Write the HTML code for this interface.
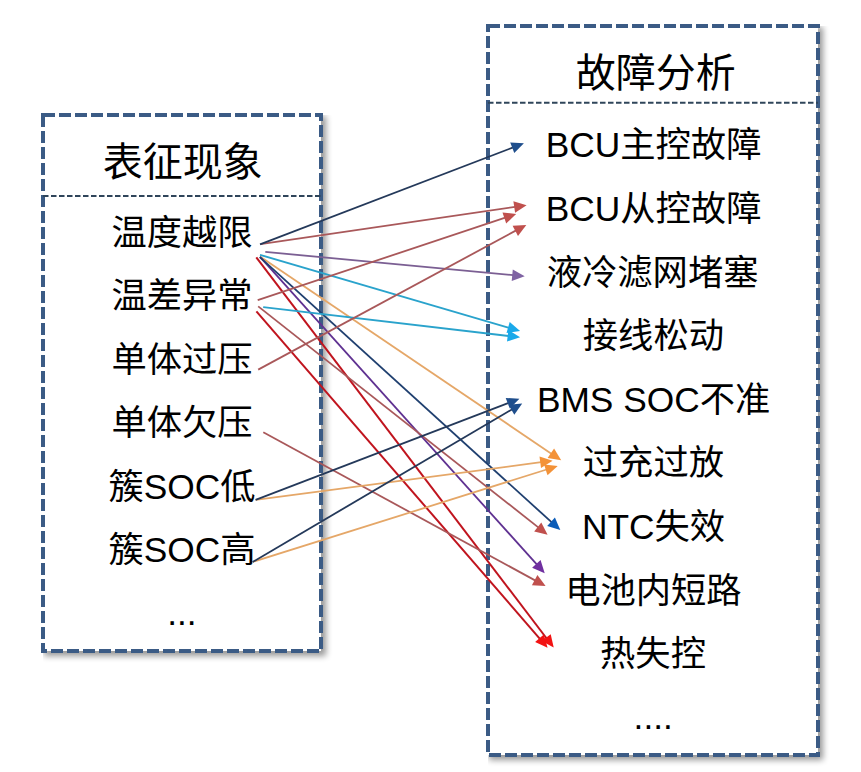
<!DOCTYPE html>
<html lang="zh"><head><meta charset="utf-8"><title>表征现象 - 故障分析</title>
<style>html,body{margin:0;padding:0;background:#fff;font-family:"Liberation Sans",sans-serif}svg{display:block}</style></head>
<body>
<svg role="img" aria-label="表征现象 → 故障分析" width="861" height="772" viewBox="0 0 861 772">
<defs><filter id="sh" x="-10%" y="-10%" width="125%" height="125%"><feGaussianBlur in="SourceAlpha" stdDeviation="3"/><feOffset dx="3" dy="3"/><feComponentTransfer><feFuncA type="linear" slope="0.41"/></feComponentTransfer></filter><clipPath id="c0"><rect x="43" y="115" width="318" height="576"/></clipPath><clipPath id="c1"><rect x="488" y="26" width="370" height="769"/></clipPath></defs>
<rect width="861" height="772" fill="#fff"/>
<g clip-path="url(#c0)"><rect x="41" y="113" width="282" height="540" fill="#000" filter="url(#sh)"/></g>
<rect x="43" y="115" width="278" height="536" fill="#fff"/>
<rect x="43" y="115" width="278" height="536" fill="none" stroke="#3b5b85" stroke-width="4" stroke-dasharray="12 4"/>
<line x1="43" y1="196" x2="321" y2="196" stroke="#2f455a" stroke-width="2" stroke-dasharray="5.5 2.5"/>
<g clip-path="url(#c1)"><rect x="486" y="24" width="334" height="733" fill="#000" filter="url(#sh)"/></g>
<rect x="488" y="26" width="330" height="729" fill="#fff"/>
<rect x="488" y="26" width="330" height="729" fill="none" stroke="#3b5b85" stroke-width="4" stroke-dasharray="12 4"/>
<line x1="488" y1="102.7" x2="818" y2="102.7" stroke="#2f455a" stroke-width="2" stroke-dasharray="5.5 2.5"/>
<g font-family="'Liberation Sans', 'Noto Sans CJK SC', sans-serif" fill="#000" text-anchor="middle">
<text x="182.7" y="175.5" font-size="40">表征现象</text>
<text x="182" y="245" font-size="35.3">温度越限</text>
<text x="182" y="308.4" font-size="35.3">温差异常</text>
<text x="182" y="371.5" font-size="35.3">单体过压</text>
<text x="182" y="435.2" font-size="35.3">单体欠压</text>
<text x="182" y="498.8" font-size="35.3">簇SOC低</text>
<text x="182" y="562.3" font-size="35.3">簇SOC高</text>
<text x="181.9" y="625.1" font-size="35.3">...</text>
<text x="655.8" y="87" font-size="40">故障分析</text>
<text x="653.6" y="157.2" font-size="35.3">BCU主控故障</text>
<text x="653.6" y="220.8" font-size="35.3">BCU从控故障</text>
<text x="652.6" y="284.5" font-size="35.3">液冷滤网堵塞</text>
<text x="653.4" y="348.1" font-size="35.3">接线松动</text>
<text x="653.6" y="411.8" font-size="35.3">BMS SOC不准</text>
<text x="653.4" y="475.4" font-size="35.3">过充过放</text>
<text x="653.6" y="539.1" font-size="35.3">NTC失效</text>
<text x="653.4" y="602.8" font-size="35.3">电池内短路</text>
<text x="653" y="666.4" font-size="35.3">热失控</text>
<text x="653.2" y="729.1" font-size="35.3">....</text>
</g>
<g stroke-linecap="butt">
<line x1="256.3" y1="257.3" x2="546.7" y2="638.5" stroke="#c0141e" stroke-width="2.0"/><polygon points="553.7,647.6 541.6,641.1 550.7,634.2" fill="#f21313"/>
<line x1="256.4" y1="311.4" x2="540.1" y2="639.1" stroke="#c0141e" stroke-width="2.0"/><polygon points="547.6,647.8 535.1,642.1 543.8,634.6" fill="#f21313"/>
<line x1="260" y1="256.6" x2="551.7" y2="453.9" stroke="#e5a768" stroke-width="1.8"/><polygon points="561.2,460.3 547.6,458.1 554.1,448.5" fill="#f39238"/>
<line x1="260" y1="256.8" x2="537" y2="564.7" stroke="#5f3191" stroke-width="1.8"/><polygon points="544.7,573.2 532.1,567.8 540.6,560.1" fill="#7030a0"/>
<line x1="259.8" y1="257.1" x2="551.8" y2="522.4" stroke="#1f3f6f" stroke-width="1.8"/><polygon points="560.3,530.1 547.2,526 554.9,517.4" fill="#0b5cb8"/>
<line x1="260" y1="254.8" x2="509.1" y2="327.8" stroke="#2aa3cc" stroke-width="1.8"/><polygon points="520.1,331 506.5,333 509.7,322" fill="#1aa9ea"/>
<line x1="265.3" y1="251.9" x2="513.3" y2="275.2" stroke="#7b5f93" stroke-width="1.8"/><polygon points="524.7,276.3 511.7,280.9 512.8,269.4" fill="#7f63a3"/>
<line x1="260.5" y1="244.2" x2="515.2" y2="206.9" stroke="#a9585a" stroke-width="1.8"/><polygon points="526.6,205.2 515.1,212.7 513.4,201.3" fill="#c0504d"/>
<line x1="260" y1="244.3" x2="513.2" y2="147.4" stroke="#24395a" stroke-width="1.8"/><polygon points="523.9,143.3 514.3,153.1 510.2,142.4" fill="#1f4e8c"/>
<line x1="257.7" y1="300.2" x2="505.3" y2="217.6" stroke="#a9585a" stroke-width="1.8"/><polygon points="516.2,214 506.2,223.4 502.5,212.5" fill="#c0504d"/>
<line x1="263.2" y1="307.1" x2="508.7" y2="336" stroke="#2aa3cc" stroke-width="1.8"/><polygon points="520.1,337.3 507,341.6 508.4,330.1" fill="#1aa9ea"/>
<line x1="258.2" y1="306.4" x2="538.6" y2="527.6" stroke="#a9585a" stroke-width="1.8"/><polygon points="547.6,534.7 534.2,531.5 541.3,522.4" fill="#c0504d"/>
<line x1="258.2" y1="369.6" x2="516.2" y2="230.4" stroke="#a9585a" stroke-width="1.8"/><polygon points="526.3,224.9 518,235.9 512.6,225.8" fill="#c0504d"/>
<line x1="263.3" y1="432.2" x2="535.5" y2="580.6" stroke="#a9585a" stroke-width="1.8"/><polygon points="545.6,586.1 531.9,585.2 537.4,575.1" fill="#c0504d"/>
<line x1="255.6" y1="499.8" x2="541.2" y2="462.2" stroke="#e5a768" stroke-width="1.8"/><polygon points="552.6,460.7 541,468 539.5,456.6" fill="#f39238"/>
<line x1="255.6" y1="499.8" x2="508.7" y2="402.9" stroke="#24395a" stroke-width="1.8"/><polygon points="519.4,398.8 509.8,408.6 505.7,397.9" fill="#1f4e8c"/>
<line x1="252.6" y1="562" x2="546.7" y2="469.5" stroke="#e5a768" stroke-width="1.8"/><polygon points="557.7,466.1 547.5,475.3 544.1,464.4" fill="#f39238"/>
<line x1="252.6" y1="562" x2="512.3" y2="409.2" stroke="#24395a" stroke-width="1.8"/><polygon points="522.2,403.4 514.3,414.7 508.5,404.8" fill="#1f4e8c"/>
</g></svg>
</body></html>
